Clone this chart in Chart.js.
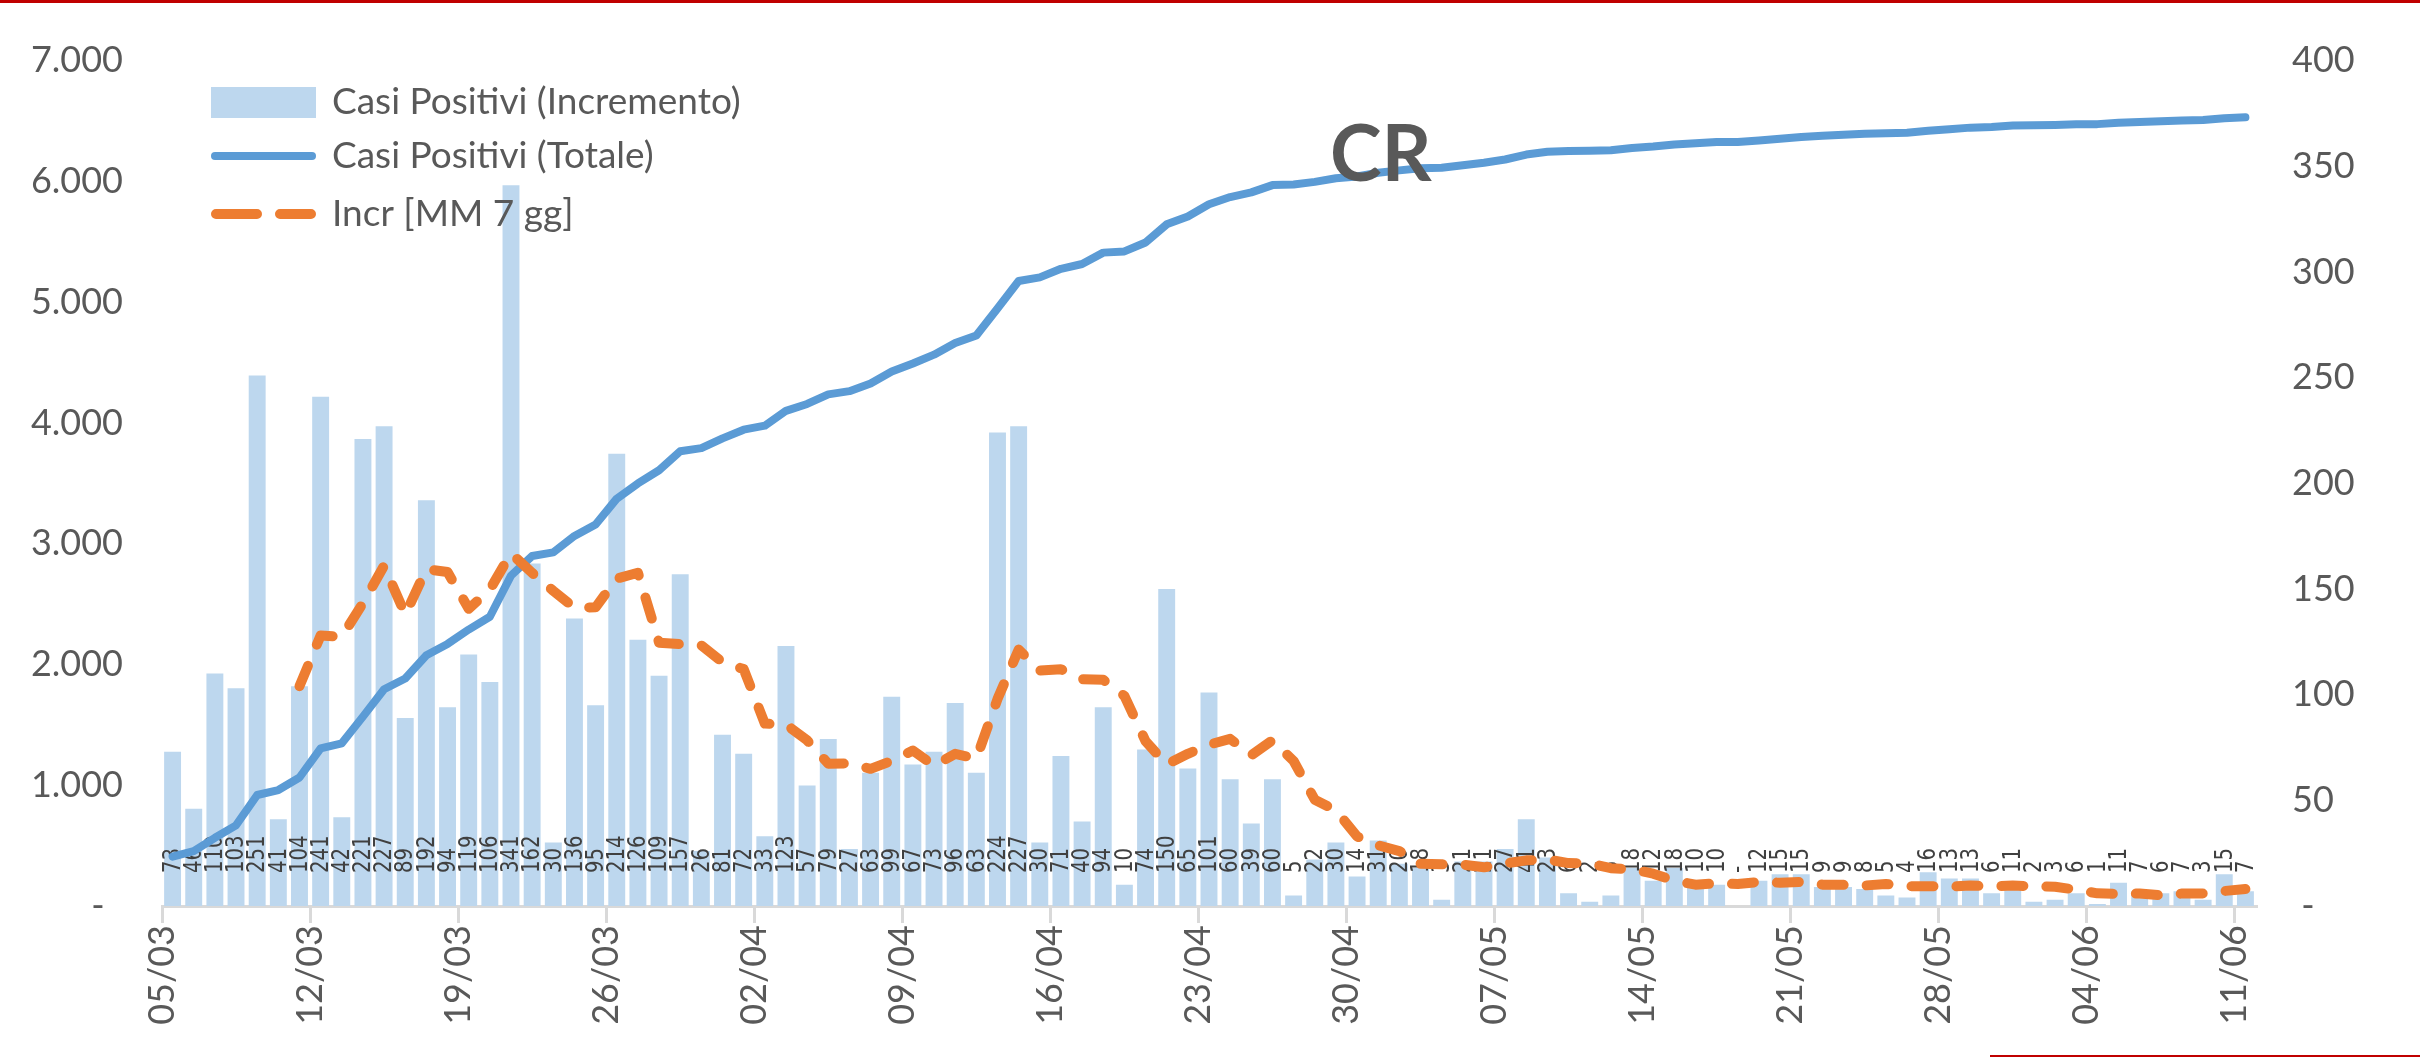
<!DOCTYPE html>
<html>
<head>
<meta charset="utf-8">
<script src="https://cdn.jsdelivr.net/npm/chart.js@4.4.1/dist/chart.umd.min.js"></script>
<style>
  html, body { margin: 0; padding: 0; background: #fff; }
  #box { width: 2420px; height: 1057px; position: relative; }
</style>
</head>
<body>
<div id="box"><canvas id="grafico"></canvas></div>
<script>
// etichette asse x (una ogni 7 giorni, dal 05/03 all'11/06)
var etichetteAsse = ['05/03', '12/03', '19/03', '26/03', '02/04', '09/04', '16/04', '23/04',
  '30/04', '07/05', '14/05', '21/05', '28/05', '04/06', '11/06'];

// nuovi casi giornalieri
var incrementi = [73, 46, 110, 103, 251, 41, 104, 241, 42, 221, 227, 89, 192, 94, 119, 106, 341,
  162, 30, 136, 95, 214, 126, 109, 157, 26, 81, 72, 33, 123, 57, 79, 27, 63, 99, 67, 73, 96, 63,
  224, 227, 30, 71, 40, 94, 10, 74, 150, 65, 101, 60, 39, 60, 5, 22, 30, 14, 31, 20, 18, 3, 21,
  21, 27, 41, 23, 6, 2, 5, 18, 12, 18, 10, 10, 0, 12, 15, 15, 9, 9, 8, 5, 4, 16, 13, 13, 6, 11,
  2, 3, 6, 1, 11, 7, 6, 7, 3, 15, 7];

// casi totali
var totale = [409, 455, 565, 668, 919, 960, 1064, 1305, 1347, 1568, 1795, 1884, 2076, 2170, 2289,
  2395, 2736, 2898, 2928, 3064, 3159, 3373, 3499, 3608, 3765, 3791, 3872, 3944, 3977, 4100, 4157,
  4236, 4263, 4326, 4425, 4492, 4565, 4661, 4724, 4948, 5175, 5205, 5276, 5316, 5410, 5420, 5494,
  5644, 5709, 5810, 5870, 5909, 5969, 5974, 5996, 6026, 6040, 6071, 6091, 6109, 6112, 6133, 6154,
  6181, 6222, 6245, 6251, 6253, 6258, 6276, 6288, 6306, 6316, 6326, 6326, 6338, 6353, 6368, 6377,
  6386, 6394, 6399, 6403, 6419, 6432, 6445, 6451, 6462, 6464, 6467, 6473, 6474, 6485, 6492, 6498,
  6505, 6508, 6523, 6530];

// media mobile 7 giorni degli incrementi
var media7 = [null, null, null, null, null, null, 104.0, 128.0, 127.4, 143.3, 161.0, 137.9, 159.4,
  158.0, 140.6, 149.7, 166.9, 157.6, 149.1, 141.1, 141.3, 154.9, 157.7, 124.6, 123.9, 123.3, 115.4,
  112.1, 86.3, 85.9, 78.4, 67.3, 67.4, 64.9, 68.7, 73.6, 66.4, 72.0, 69.7, 97.9, 121.3, 111.4,
  112.0, 107.3, 107.0, 99.4, 78.0, 67.0, 72.0, 76.3, 79.1, 71.3, 78.4, 68.6, 50.3, 45.3, 32.9,
  28.7, 26.0, 20.0, 19.7, 19.6, 18.3, 20.1, 21.6, 22.0, 20.3, 20.1, 17.9, 17.4, 15.3, 12.0, 10.1,
  10.7, 10.4, 11.4, 11.0, 11.4, 10.1, 10.0, 9.7, 10.4, 9.3, 9.4, 9.1, 9.7, 9.3, 9.7, 9.3, 9.1,
  7.7, 6.0, 5.7, 5.9, 5.1, 5.9, 5.9, 7.1, 8.0];

var BLU_BARRE = '#bdd7ee';
var BLU_LINEA = '#5b9bd5';
var ARANCIO = '#ed7d31';
var GRIGIO = '#595959';

Chart.defaults.font.family = 'Lato';
Chart.defaults.color = GRIGIO;

function punti(serie) {
  return serie.map(function (v, i) { return { x: i + 0.5, y: v }; });
}

function migliaia(v) {
  return String(v).replace(/\B(?=(\d{3})+(?!\d))/g, '.');
}

// valori scritti in verticale alla base delle barre
var etichetteBarre = {
  id: 'etichetteBarre',
  afterDatasetDraw: function (chart, args) {
    if (args.index !== 0) return;
    var ctx = chart.ctx;
    var base = chart.chartArea.bottom - 33;
    ctx.save();
    ctx.fillStyle = '#404040';
    ctx.font = '24px "DejaVu Sans"';
    ctx.textBaseline = 'middle';
    ctx.textAlign = 'left';
    args.meta.data.forEach(function (bar, i) {
      var v = incrementi[i];
      ctx.save();
      ctx.translate(bar.x + 1, base);
      ctx.rotate(-Math.PI / 2);
      ctx.scale(0.82, 1);
      ctx.fillText(v === 0 ? '-' : String(v), 0, 0);
      ctx.restore();
    });
    ctx.restore();
  }
};

// legenda dentro l'area del grafico, scritta CR e filetti rossi
var decorazioni = {
  id: 'decorazioni',
  afterDraw: function (chart) {
    var ctx = chart.ctx;
    var ds = chart.data.datasets;
    ctx.save();

    ctx.fillStyle = ds[0].backgroundColor;
    ctx.fillRect(211, 87, 105, 31);

    ctx.lineCap = 'round';
    ctx.strokeStyle = ds[1].borderColor;
    ctx.lineWidth = 8;
    ctx.beginPath();
    ctx.moveTo(215, 156);
    ctx.lineTo(312, 156);
    ctx.stroke();

    ctx.strokeStyle = ds[2].borderColor;
    ctx.lineWidth = 10;
    ctx.setLineDash([41, 23]);
    ctx.beginPath();
    ctx.moveTo(216, 214);
    ctx.lineTo(311, 214);
    ctx.stroke();
    ctx.setLineDash([]);

    ctx.fillStyle = GRIGIO;
    ctx.font = '37px Lato';
    ctx.textBaseline = 'middle';
    ctx.textAlign = 'left';
    ctx.fillText(ds[0].label, 332, 102);
    ctx.fillText(ds[1].label, 332, 156);
    ctx.fillText(ds[2].label, 332, 214);

    ctx.font = 'bold 78px Lato';
    ctx.textBaseline = 'alphabetic';
    ctx.fillText('CR', 1330, 181);

    ctx.fillStyle = '#c00000';
    ctx.fillRect(0, 0, chart.width, 3);
    ctx.fillRect(1990, chart.height - 2, chart.width - 1990, 2);
    ctx.restore();
  }
};

var grafico = new Chart(document.getElementById('grafico'), {
  type: 'bar',
  data: {
    datasets: [{
      type: 'bar',
      label: 'Casi Positivi (Incremento)',
      data: punti(incrementi),
      backgroundColor: BLU_BARRE,
      yAxisID: 'y1',
      barPercentage: 1,
      categoryPercentage: 0.8,
      order: 3
    }, {
      type: 'line',
      label: 'Casi Positivi (Totale)',
      data: punti(totale),
      borderColor: BLU_LINEA,
      borderWidth: 8,
      borderJoinStyle: 'round',
      borderCapStyle: 'round',
      pointRadius: 0,
      yAxisID: 'y',
      order: 2
    }, {
      type: 'line',
      label: 'Incr [MM 7 gg]',
      data: punti(media7),
      borderColor: ARANCIO,
      borderWidth: 10,
      borderDash: [22, 23],
      borderCapStyle: 'round',
      borderJoinStyle: 'round',
      pointRadius: 0,
      yAxisID: 'y1',
      order: 1
    }]
  },
  options: {
    responsive: true,
    maintainAspectRatio: false,
    animation: false,
    layout: { padding: { top: 57, left: 0, right: 0, bottom: 0 } },
    plugins: {
      legend: { display: false },
      tooltip: { enabled: false }
    },
    scales: {
      x: {
        type: 'linear',
        min: 0,
        max: 99,
        offset: false,
        afterBuildTicks: function (scale) {
          scale.ticks = etichetteAsse.map(function (e, i) { return { value: i * 7 }; });
        },
        afterFit: function (scale) { scale.height = 151; },
        ticks: {
          autoSkip: false,
          minRotation: 90,
          maxRotation: 90,
          padding: 2,
          font: { size: 36 },
          color: GRIGIO,
          callback: function (v) { return etichetteAsse[Math.round(v / 7)]; }
        },
        grid: { offset: false, drawOnChartArea: false, color: '#d9d9d9', lineWidth: 3, tickLength: 17 },
        border: { color: '#d9d9d9', width: 3 }
      },
      y: {
        position: 'left',
        min: 0,
        max: 7000,
        afterFit: function (scale) { scale.width = 162; },
        ticks: {
          stepSize: 1000,
          padding: 39,
          font: { size: 36 },
          color: GRIGIO,
          callback: function (v) { return v === 0 ? '-  ' : migliaia(v); }
        },
        grid: { display: false, drawTicks: false },
        border: { display: false }
      },
      y1: {
        position: 'right',
        min: 0,
        max: 400,
        afterFit: function (scale) { scale.width = 164; },
        ticks: {
          stepSize: 50,
          padding: 36,
          font: { size: 36 },
          color: GRIGIO,
          callback: function (v) { return v === 0 ? ' -' : String(v); }
        },
        grid: { display: false, drawTicks: false },
        border: { display: false }
      }
    }
  },
  plugins: [etichetteBarre, decorazioni]
});
</script>
</body>
</html>
